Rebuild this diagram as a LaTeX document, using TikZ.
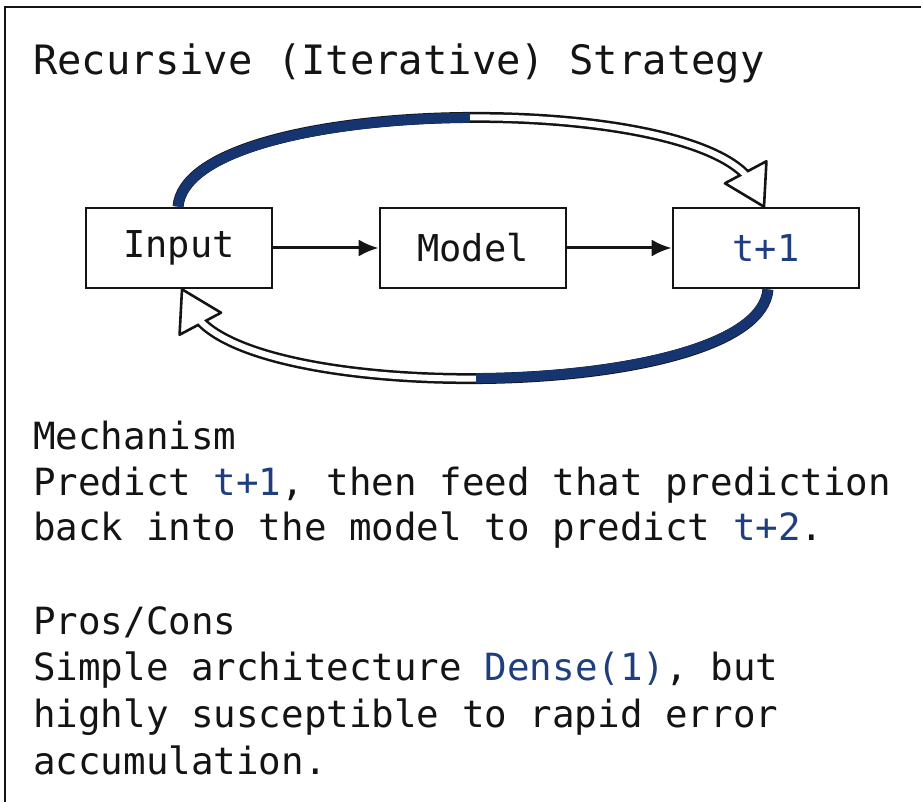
\documentclass[tikz,border=0pt]{standalone}
\usepackage{fontspec}
\setmonofont{DejaVu Sans Mono}
\usetikzlibrary{arrows.meta,calc}
\definecolor{navy}{RGB}{22,52,112}
\definecolor{tblue}{RGB}{30,62,128}
\definecolor{ink}{RGB}{20,20,20}
\begin{document}
\begin{tikzpicture}[x=1pt,y=-1pt,
  box/.style={draw=ink, line width=2.6pt, fill=white, minimum width=186pt, minimum height=80pt, inner sep=0pt, font=\ttfamily\fontsize{37}{40}\selectfont, text=ink},
  txt/.style={anchor=base west, inner sep=0pt, font=\ttfamily\fontsize{37.5}{44}\selectfont, text=ink},
  flow/.style={draw=ink, line width=3pt, -{Latex[length=20pt,width=17pt]}},
  arcout/.style={draw=ink, line width=11pt},
  arcin/.style={draw=white, line width=6pt},
  arcnavy/.style={draw=navy, line width=10pt},
  arrowhead/.style={draw=ink, fill=white, line width=2.6pt, line join=round},
]
\useasboundingbox (0,0) rectangle (921,802);
\begin{scope}
\clip (0,0) rectangle (921,802);
\draw[ink, line width=2.4pt] (5,7) rectangle (940,830);
\end{scope}

\node[anchor=base west, inner sep=0pt, font=\ttfamily\fontsize{40.5}{46}\selectfont, text=ink] (title) at (33,75) {Recursive (Iterative) Strategy};

\node[box] (in) at (179,248) {Input};
\node[box] (mo) at (473,248) {Model};
\node[box, text=tblue] (t1) at (766,248) {t+1};

\draw[flow] (in) -- (mo);
\draw[flow] (mo) -- (t1);

\coordinate (ts) at ([xshift=-1pt]in.north);
\coordinate (te) at ([xshift=-2pt]t1.north);
\coordinate (tb) at ($(te)+(242:31)$);
\coordinate (bs) at ([xshift=2pt]t1.south);
\coordinate (be) at ([xshift=3pt]in.south);
\coordinate (bb) at ($(be)+(62:31)$);

% top arc: Input -> t+1
\draw[arcout] (ts) .. controls (187,97) and (680,89) .. (tb);
\draw[arrowhead] (te) -- ($(te)+(242:39)+(152:23.5)$) -- ($(te)+(242:39)+(332:23.5)$) -- cycle;
\draw[arcin] (ts) .. controls (187,97) and (680,89) .. (tb);
\draw[arcnavy] (ts) .. controls (182.8,148.5) and (326.7,118.6) .. (469.9,117.7);

% bottom arc: t+1 -> Input
\draw[arcout] (bs) .. controls (759,399) and (266,407) .. (bb);
\draw[arrowhead] (be) -- ($(be)+(62:39)+(332:23.5)$) -- ($(be)+(62:39)+(152:23.5)$) -- cycle;
\draw[arcin] (bs) .. controls (759,399) and (266,407) .. (bb);
\draw[arcnavy] (bs) .. controls (763.2,347.5) and (619.3,377.4) .. (476.1,378.3);

\node[txt] (m0) at (33,449) {Mechanism};
\node[txt] (m1) at (33,495) {Predict \textcolor{tblue}{t+1}, then feed that prediction};
\node[txt] (m2) at (33,540) {back into the model to predict \textcolor{tblue}{t+2}.};
\node[txt] (p0) at (33,634) {Pros/Cons};
\node[txt] (p1) at (33,680) {Simple architecture \textcolor{tblue}{Dense(1)}, but};
\node[txt] (p2) at (33,727) {highly susceptible to rapid error};
\node[txt] (p3) at (33,774) {accumulation.};
\end{tikzpicture}
\end{document}
